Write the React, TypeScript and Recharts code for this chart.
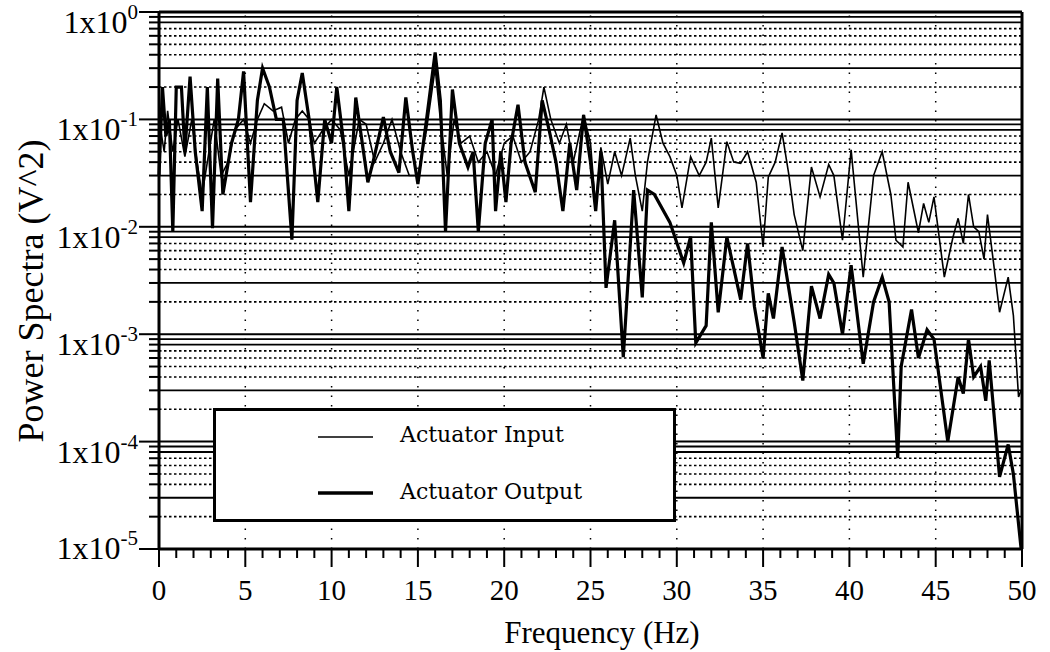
import React from 'react';
import { LineChart, Line, XAxis, YAxis, ReferenceLine, Legend } from 'recharts';

const SERIF = '"Liberation Serif", "Times New Roman", serif';
const WIDE_SERIF = '"DejaVu Serif", serif';

// Actuator Input (thin trace): frequency in Hz, power in V^2
const inputFreq = [
  0, 0.3, 0.5, 0.8, 1.1, 1.5, 1.9, 2.2, 2.5, 2.8, 3.2, 3.6, 4.0, 4.4, 4.9, 5.3, 5.7, 6.1, 6.6, 7.1,
  7.5, 7.9, 8.3, 8.7, 9.0, 9.5, 10.0, 10.5, 11.0, 11.6, 12.0, 12.5, 13.0, 13.5, 14.0, 14.5, 15.0, 15.5, 16.0, 16.3,
  16.7, 17.1, 17.5, 18.0, 18.5, 19.0, 19.5, 20.0, 20.5, 21.0, 21.5, 22.0, 22.3, 22.7, 23.2, 23.6, 24.0, 24.6, 25.0, 25.3,
  25.6, 26.0, 26.4, 26.8, 27.3, 27.6, 28.0, 28.3, 28.8, 29.2, 29.6, 30.0, 30.3, 30.8, 31.3, 31.7, 32.0, 32.4, 32.9, 33.3,
  33.7, 34.1, 34.6, 35.0, 35.3, 35.7, 36.1, 36.5, 36.8, 37.3, 37.8, 38.3, 38.8, 39.1, 39.6, 40.1, 40.8, 41.4, 41.9, 42.4,
  42.7, 43.1, 43.4, 44.0, 44.3, 44.6, 44.9, 45.5, 46.0, 46.3, 46.6, 46.9, 47.2, 47.5, 47.8, 48.0, 48.4, 48.7, 49.2, 49.5,
  49.8, 49.95,
];
const inputPower = [
  0.1, 0.05, 0.12, 0.05, 0.1, 0.045, 0.1, 0.04, 0.02, 0.04, 0.1, 0.03, 0.04, 0.08, 0.1, 0.06, 0.1, 0.14, 0.12, 0.13,
  0.06, 0.1, 0.12, 0.1, 0.06, 0.08, 0.1, 0.08, 0.03, 0.1, 0.09, 0.04, 0.06, 0.1, 0.05, 0.03, 0.03, 0.08, 0.3, 0.1,
  0.03, 0.1, 0.06, 0.07, 0.04, 0.05, 0.03, 0.06, 0.07, 0.04, 0.05, 0.1, 0.2, 0.1, 0.06, 0.09, 0.04, 0.11, 0.06, 0.015,
  0.055, 0.025, 0.05, 0.03, 0.067, 0.03, 0.014, 0.04, 0.11, 0.06, 0.045, 0.03, 0.015, 0.045, 0.03, 0.04, 0.067, 0.015, 0.062, 0.04,
  0.039, 0.05, 0.026, 0.0065, 0.029, 0.04, 0.075, 0.03, 0.013, 0.006, 0.036, 0.019, 0.038, 0.03, 0.0075, 0.052, 0.0034, 0.03, 0.05, 0.02,
  0.0075, 0.0065, 0.026, 0.0088, 0.0165, 0.011, 0.019, 0.0034, 0.008, 0.012, 0.007, 0.02, 0.01, 0.009, 0.005, 0.013, 0.004, 0.0016, 0.0034, 0.0015,
  0.00026, 0.0003,
];

// Actuator Output (thick trace)
const outputFreq = [
  0, 0.2, 0.4, 0.6, 0.8, 1.0, 1.3, 1.5, 1.8, 2.1, 2.5, 2.8, 3.1, 3.4, 3.7, 4.2, 4.6, 4.9, 5.3, 5.7,
  6.0, 6.4, 6.8, 7.2, 7.7, 8.0, 8.3, 8.7, 9.2, 9.6, 10.0, 10.3, 10.7, 11.0, 11.4, 12.1, 12.4, 13.0, 13.4, 13.9,
  14.3, 14.7, 15.0, 15.5, 16.0, 16.3, 16.6, 17.0, 17.4, 17.9, 18.2, 18.5, 18.9, 19.3, 19.5, 19.8, 20.1, 20.4, 20.8, 21.2,
  21.8, 22.2, 22.6, 23.0, 23.4, 23.8, 24.2, 24.6, 25.0, 25.3, 25.6, 25.9, 26.4, 26.9, 27.5, 28.0, 28.3, 28.7, 29.6, 30.4,
  30.8, 31.1, 31.7, 32.0, 32.4, 32.9, 33.7, 34.1, 34.5, 35.0, 35.3, 35.6, 36.1, 36.8, 37.3, 37.8, 38.3, 38.8, 39.1, 39.6,
  40.1, 40.8, 41.4, 41.9, 42.3, 42.8, 43.0, 43.6, 44.0, 44.5, 44.9, 45.7, 46.3, 46.6, 46.9, 47.2, 47.6, 47.9, 48.1, 48.7,
  49.2, 49.5, 49.95,
];
const outputPower = [
  0.03, 0.2, 0.07, 0.1, 0.009, 0.2, 0.2, 0.05, 0.25, 0.05, 0.014, 0.2, 0.0097, 0.24, 0.02, 0.06, 0.1, 0.28, 0.017, 0.15,
  0.3, 0.2, 0.1, 0.1, 0.0076, 0.15, 0.27, 0.1, 0.017, 0.1, 0.06, 0.2, 0.06, 0.014, 0.16, 0.026, 0.04, 0.105, 0.05, 0.032,
  0.16, 0.05, 0.025, 0.1, 0.42, 0.15, 0.009, 0.19, 0.06, 0.036, 0.05, 0.009, 0.06, 0.1, 0.014, 0.05, 0.017, 0.06, 0.137, 0.04,
  0.021, 0.15, 0.08, 0.04, 0.014, 0.06, 0.022, 0.11, 0.04, 0.014, 0.05, 0.0027, 0.0115, 0.00061, 0.022, 0.0022, 0.022, 0.02, 0.011, 0.0046,
  0.0081, 0.00083, 0.0012, 0.011, 0.0016, 0.008, 0.0021, 0.007, 0.0018, 0.0006, 0.0024, 0.0014, 0.0065, 0.0013, 0.00037, 0.0028, 0.0014, 0.0036, 0.003, 0.001,
  0.0044, 0.00053, 0.002, 0.0034, 0.002, 0.00007, 0.0005, 0.0017, 0.0006, 0.0011, 0.0009, 0.0001, 0.0004, 0.00028, 0.0009, 0.0004, 0.0005, 0.00024, 0.00057, 0.000047,
  0.000094, 0.00005, 0.00001,
];

// axes
const decades = [1, 0.1, 0.01, 0.001, 0.0001, 0.00001];
const decadeExponents = ['0', '-1', '-2', '-3', '-4', '-5'];
const solidMantissas = [3, 8, 9];
const dottedMantissas = [2, 4, 5, 6, 7];
const xLabels = [0, 5, 10, 15, 20, 25, 30, 35, 40, 45, 50];

const inputData = inputFreq.map((f, i) => ({ f, v: inputPower[i] }));
const outputData = outputFreq.map((f, i) => ({ f, v: outputPower[i] }));

const lowerDecades = decades.slice(1);
const solidGrid = lowerDecades.flatMap((d) => solidMantissas.map((m) => m * d));
const dottedGrid = lowerDecades.flatMap((d) => dottedMantissas.map((m) => m * d));
const yTicks = [...decades, ...solidGrid, ...dottedGrid].sort((a, b) => a - b);
const xTicks = Array.from({ length: 51 }, (_, i) => i);

const decadeIndex = (v: number) =>
  decades.findIndex((d) => Math.abs(Math.log10(v) - Math.log10(d)) < 1e-6);

const YTick = (props: any) => {
  const { x, y, payload } = props;
  const idx = decadeIndex(payload.value);
  const major = idx >= 0;
  return (
    <g>
      <line x1={x - (major ? 20 : 10)} x2={x} y1={y} y2={y} stroke="#000" strokeWidth={2} />
      {major && (
        <text
          x={x - 21}
          y={y + (idx === 5 ? 10 : 21)}
          textAnchor="end"
          fontFamily={SERIF}
          fontSize={32}
          fill="#000"
        >
          1x10
          <tspan dy={-14} fontSize={21}>
            {decadeExponents[idx]}
          </tspan>
        </text>
      )}
    </g>
  );
};

const XTick = (props: any) => {
  const { x, y, payload } = props;
  const major = payload.value % 5 === 0;
  return (
    <g>
      <line x1={x} x2={x} y1={y} y2={y + (major ? 18 : 9)} stroke="#000" strokeWidth={2} />
      {major && (
        <text x={x} y={y + 51} textAnchor="middle" fontFamily={SERIF} fontSize={29} fill="#000">
          {payload.value}
        </text>
      )}
    </g>
  );
};

const legendWidths = [1.6, 3.4];

const LegendBox = ({ payload }: any) => (
  <svg width={463} height={114} style={{ display: 'block' }}>
    <rect x={1.5} y={1.5} width={460} height={111} fill="#fff" stroke="#000" strokeWidth={3} />
    {(payload || []).map((p: any, i: number) => (
      <g key={p.value}>
        <line x1={105} x2={160} y1={29 + i * 56} y2={29 + i * 56} stroke="#000" strokeWidth={legendWidths[i]} />
        <text x={187} y={34 + i * 57} fontFamily={WIDE_SERIF} fontSize={22} fill="#000">
          {p.value}
        </text>
      </g>
    ))}
  </svg>
);

export default function App() {
  return (
    <div style={{ position: 'absolute', left: 0, top: 0, width: 1050, height: 652, background: '#fff' }}>
      <LineChart width={1050} height={652} margin={{ top: 12, right: 28, bottom: 0, left: 0 }}>
        <XAxis
          type="number"
          dataKey="f"
          domain={[0, 50]}
          ticks={xTicks}
          interval={0}
          height={103}
          tickSize={0}
          tickMargin={0}
          tickLine={false}
          tick={<XTick />}
          axisLine={{ stroke: '#000', strokeWidth: 3 }}
        />
        <YAxis
          type="number"
          scale="log"
          domain={[0.00001, 1]}
          allowDataOverflow
          ticks={yTicks}
          interval={0}
          width={159}
          tickSize={0}
          tickMargin={0}
          tickLine={false}
          tick={<YTick />}
          axisLine={{ stroke: '#000', strokeWidth: 3 }}
        />
        {dottedGrid.map((v) => (
          <ReferenceLine key={`d${v}`} y={v} stroke="#000" strokeWidth={1.6} strokeDasharray="2.5 2.5" />
        ))}
        {solidGrid.map((v) => (
          <ReferenceLine key={`s${v}`} y={v} stroke="#000" strokeWidth={1.8} />
        ))}
        {decades.slice(1, 5).map((v) => (
          <ReferenceLine key={`m${v}`} y={v} stroke="#000" strokeWidth={2} />
        ))}
        {xLabels.slice(1, 10).map((f) => (
          <ReferenceLine key={`x${f}`} x={f} stroke="#000" strokeWidth={1.5} strokeDasharray="1.5 8" />
        ))}
        <ReferenceLine y={1} stroke="#000" strokeWidth={3} />
        <ReferenceLine x={50} stroke="#000" strokeWidth={3} />
        <Line
          data={inputData}
          dataKey="v"
          name="Actuator Input"
          type="linear"
          stroke="#000"
          strokeWidth={1.6}
          dot={false}
          isAnimationActive={false}
        />
        <Line
          data={outputData}
          dataKey="v"
          name="Actuator Output"
          type="linear"
          stroke="#000"
          strokeWidth={3.2}
          dot={false}
          isAnimationActive={false}
        />
        <Legend
          layout="horizontal"
          verticalAlign="middle"
          align="center"
          content={<LegendBox />}
          wrapperStyle={{ position: 'absolute', left: 213, top: 408, width: 463, height: 114, bottom: 'auto', margin: 0 }}
        />
      </LineChart>
      <svg
        width={1050}
        height={652}
        style={{ position: 'absolute', left: 0, top: 0, pointerEvents: 'none' }}
      >
        <text x={602} y={643} textAnchor="middle" fontFamily={SERIF} fontSize={31} fill="#000">
          Frequency (Hz)
        </text>
        <text
          transform="translate(43 291) rotate(-90)"
          textAnchor="middle"
          fontFamily={SERIF}
          fontSize={36}
          fill="#000"
        >
          Power Spectra (V^2)
        </text>
      </svg>
    </div>
  );
}
